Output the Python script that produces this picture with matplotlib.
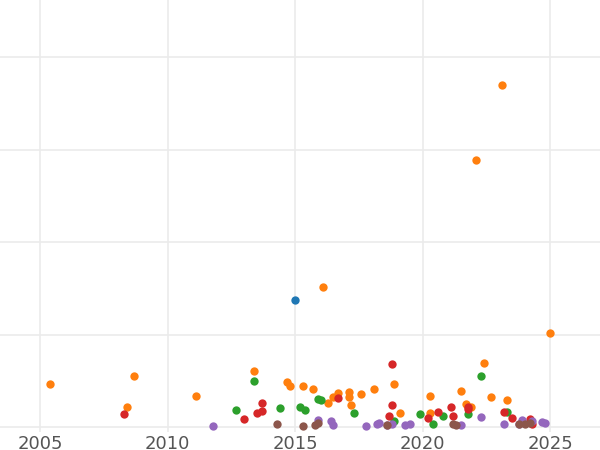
import matplotlib.pyplot as plt

orange_x = [2005.4, 2008.4, 2008.7, 2011.1, 2013.4, 2014.7, 2014.8, 2015.3, 2015.7, 2016.1, 2016.3, 2016.5,
            2016.7, 2017.1, 2017.1, 2017.2, 2017.6, 2018.1, 2018.9, 2019.1, 2020.3, 2020.3, 2021.5, 2021.7,
            2022.4, 2022.7, 2023.1, 2022.1, 2023.3, 2025.0, 2021.9]
orange_y = [0.47, 0.22, 0.56, 0.34, 0.61, 0.49, 0.45, 0.45, 0.42, 1.52, 0.26, 0.33,
            0.37, 0.38, 0.33, 0.24, 0.36, 0.41, 0.47, 0.16, 0.34, 0.15, 0.39, 0.25,
            0.70, 0.33, 3.70, 2.89, 0.30, 1.02, 0.22]
green_x = [2012.7, 2013.4, 2014.4, 2015.2, 2015.4, 2015.9, 2016.0, 2017.3, 2018.9, 2019.9, 2020.4,
           2020.8, 2021.8, 2022.3, 2023.3]
green_y = [0.19, 0.50, 0.21, 0.22, 0.19, 0.31, 0.30, 0.15, 0.07, 0.14, 0.04, 0.12, 0.14, 0.56, 0.17]
red_x = [2008.3, 2013.0, 2013.5, 2013.7, 2013.7, 2016.7, 2018.8, 2018.7, 2018.8, 2020.2, 2020.6,
         2021.1, 2021.2, 2021.8, 2021.8, 2023.2, 2023.5, 2024.2, 2024.3]
red_y = [0.14, 0.09, 0.16, 0.26, 0.18, 0.32, 0.69, 0.12, 0.24, 0.10, 0.17,
         0.22, 0.12, 0.22, 0.20, 0.17, 0.10, 0.09, 0.04]
blue_x = [2015.0]
blue_y = [1.38]
purple_x = [2011.8, 2015.9, 2016.4, 2016.5, 2017.8, 2018.2, 2018.3, 2018.6, 2018.8, 2019.3, 2019.5,
            2021.5, 2022.3, 2023.2, 2023.8, 2023.9, 2024.3, 2024.7, 2024.8]
purple_y = [0.02, 0.08, 0.07, 0.03, 0.02, 0.04, 0.05, 0.03, 0.04, 0.03, 0.04,
            0.03, 0.11, 0.04, 0.04, 0.08, 0.07, 0.06, 0.05]
brown_x = [2014.3, 2015.3, 2015.8, 2015.9, 2018.6, 2021.2, 2021.3, 2023.8, 2024.0, 2024.2]
brown_y = [0.04, 0.02, 0.03, 0.05, 0.03, 0.04, 0.03, 0.04, 0.04, 0.05]

fig = plt.figure(figsize=(6, 4.5), dpi=100)
ax = fig.add_axes([0, 0.04, 1, 0.96])

series = [(blue_x, blue_y, '#1f77b4'), (orange_x, orange_y, '#ff7f0e'),
          (green_x, green_y, '#2ca02c'), (red_x, red_y, '#d62728'),
          (purple_x, purple_y, '#9467bd'), (brown_x, brown_y, '#8c564b')]
for xs, ys, c in series:
    ax.scatter(xs, ys, s=36, color=c, linewidths=0, zorder=3)

ax.set_xlim(2003.43, 2026.96)
ax.set_ylim(-0.05, 4.62)
ax.set_xticks([2005, 2010, 2015, 2020, 2025])
ax.set_yticks([0, 1, 2, 3, 4])
ax.set_yticklabels([])
ax.grid(True, color='#ebebeb', linewidth=1.2)
ax.set_axisbelow(True)
for s in ax.spines.values():
    s.set_visible(False)
ax.tick_params(length=0, labelsize=13, labelcolor='#555555', pad=2)
ax.tick_params(axis='y', left=False)

fig.savefig('out.png', dpi=100)
